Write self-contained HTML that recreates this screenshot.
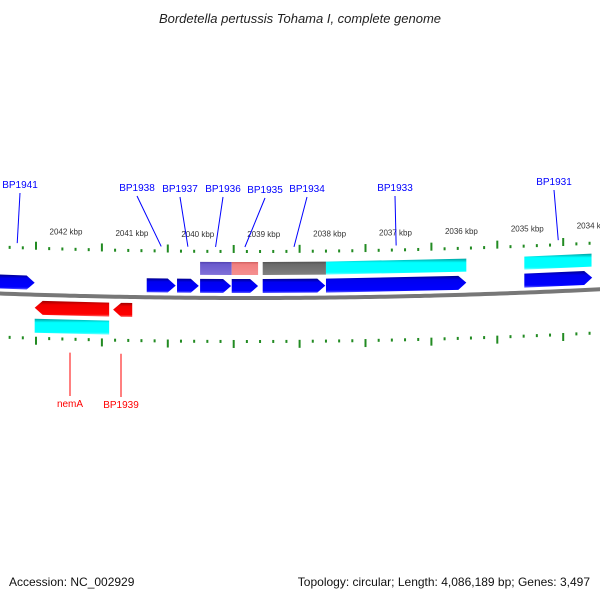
<!DOCTYPE html>
<html><head><meta charset="utf-8"><style>
body{margin:0;background:#fff;}
svg{display:block;font-family:"Liberation Sans","DejaVu Sans",sans-serif;}
</style></head><body>
<svg id="map" width="600" height="600" viewBox="0 0 600 600">
<defs>
<linearGradient id="gBlue" x1="0" y1="0" x2="0" y2="1"><stop offset="0" stop-color="#00008c"/><stop offset="0.25" stop-color="#0000f0"/><stop offset="0.85" stop-color="#0000ff"/><stop offset="1" stop-color="#6060ff"/></linearGradient>
<linearGradient id="gRed" x1="0" y1="0" x2="0" y2="1"><stop offset="0" stop-color="#a00000"/><stop offset="0.25" stop-color="#f00000"/><stop offset="0.85" stop-color="#ff0000"/><stop offset="1" stop-color="#ff7070"/></linearGradient>
<linearGradient id="gCyan" x1="0" y1="0" x2="0" y2="1"><stop offset="0" stop-color="#00a0a0"/><stop offset="0.25" stop-color="#00ffff"/><stop offset="0.85" stop-color="#00ffff"/><stop offset="1" stop-color="#80ffff"/></linearGradient>
<linearGradient id="gPurple" x1="0" y1="0" x2="0" y2="1"><stop offset="0" stop-color="#5040b0"/><stop offset="0.2" stop-color="#6a5acd"/><stop offset="1" stop-color="#8070d8"/></linearGradient>
<linearGradient id="gPink" x1="0" y1="0" x2="0" y2="1"><stop offset="0" stop-color="#d06060"/><stop offset="0.2" stop-color="#f08080"/><stop offset="1" stop-color="#f59090"/></linearGradient>
<linearGradient id="gGray" x1="0" y1="0" x2="0" y2="1"><stop offset="0" stop-color="#505050"/><stop offset="0.2" stop-color="#696969"/><stop offset="1" stop-color="#808080"/></linearGradient>
<linearGradient id="gBack" x1="0" y1="0" x2="0" y2="1"><stop offset="0" stop-color="#c0c0c0"/><stop offset="0.5" stop-color="#707070"/><stop offset="1" stop-color="#b0b0b0"/></linearGradient>
</defs>
<text x="300" y="23" text-anchor="middle" font-size="13" font-style="italic" fill="#222">Bordetella pertussis Tohama I, complete genome</text>
<text x="9" y="586" font-size="12" fill="#111">Accession: NC_002929</text>
<text x="590" y="586" text-anchor="end" font-size="12" fill="#111">Topology: circular; Length: 4,086,189 bp; Genes: 3,497</text>
<g id="layer"></g>
</svg>
<script>
// data (kbp)
const tickMajor = [2042,2041,2040,2039,2038,2037,2036,2035,2034];
const tickLabels = ["2042 kbp","2041 kbp","2040 kbp","2039 kbp","2038 kbp","2037 kbp","2036 kbp","2035 kbp","2034 kbp"];
const fwdNames = ["BP1941","BP1938","BP1937","BP1936","BP1935","BP1934","BP1933","BP1931"];
const fwdStart = [2042.55,2040.32,2039.86,2039.51,2039.03,2038.56,2037.60,2034.59];
const fwdEnd   = [2042.02,2039.88,2039.53,2039.04,2038.63,2037.61,2035.47,2033.56];
const revNames = ["nemA","BP1939"];
const revStart = [2042.02,2040.83];
const revEnd   = [2040.89,2040.54];
const topFeatStart = [2039.51,2039.03,2038.56,2037.60,2034.59];
const topFeatEnd   = [2039.03,2038.63,2037.60,2035.47,2033.57];
const topFeatFill  = ["gPurple","gPink","gGray","gCyan","gCyan"];
const botFeatStart = [2042.02];
const botFeatEnd   = [2040.89];
const fwdLabelPos = [[20,185],[137,188],[180,189],[223,189],[265,190],[307,189],[395,188],[554,182]];
const revLabelPos = [[70,404],[121,405]];

const NS="http://www.w3.org/2000/svg";
const layer=document.getElementById('layer');
function X(k){return 36+(2042-k)*65.9;}
function base(x){return 298-((x-250)*(x-250))/14000;}
function mk(tag,attrs){const e=document.createElementNS(NS,tag);for(const k in attrs)e.setAttribute(k,attrs[k]);layer.appendChild(e);return e;}

// backbone
let d="";for(let x=-5;x<=605;x+=5){d+=(x===-5?"M":"L")+x+","+base(x).toFixed(2);}
const bb=mk('path',{d:d,fill:'none',stroke:'#777','stroke-width':4});



// ticks
for(let k=2042.6;k>=2033.4;k-=0.2){
  const kk=Math.round(k*10)/10;const x=X(kk);const y=base(x);
  const major=Math.abs(kk-Math.round(kk))<0.01;
  const h=major?8:3;
  const t1=mk('rect',{x:x-1,y:y-45-h,width:2,height:h,fill:'#228B22'});
  
  
  const t2=mk('rect',{x:x-1,y:y+42,width:2,height:h,fill:'#228B22'});
  
  
}
tickMajor.forEach((k,i)=>{
  const x=X(k)+30;const y=base(x)-61;
  const t=mk('text',{x:x,y:y,'text-anchor':'middle','font-size':8,fill:'#333'});
  t.textContent=tickLabels[i];
  
  
});

function bar(k1,k2,off,h,fill,name){
  const x1=X(k1),x2=X(k2);
  const p=`M${x1},${base(x1)+off} L${x2},${base(x2)+off} L${x2},${base(x2)+off+h} L${x1},${base(x1)+off+h}Z`;
  const e=mk('path',{d:p,fill:'url(#'+fill+')'});
  
  
}
function arrow(k1,k2,off,h,fill,name,dir){
  const x1=X(k1),x2=X(k2);const a=Math.min(8,(x2-x1)/2);
  let p;
  if(dir>0){const xa=x2-a;p=`M${x1},${base(x1)+off} L${xa},${base(xa)+off} L${x2},${base(x2)+off+h/2} L${xa},${base(xa)+off+h} L${x1},${base(x1)+off+h}Z`;}
  else{const xa=x1+a;p=`M${x2},${base(x2)+off} L${xa},${base(xa)+off} L${x1},${base(x1)+off+h/2} L${xa},${base(xa)+off+h} L${x2},${base(x2)+off+h}Z`;}
  const e=mk('path',{d:p,fill:'url(#'+fill+')'});
  
  
}
topFeatStart.forEach((s,i)=>bar(s,topFeatEnd[i],-36,13,topFeatFill[i],'feature-top'));
botFeatStart.forEach((s,i)=>bar(s,botFeatEnd[i],24,14,'gCyan','feature-bottom'));
fwdStart.forEach((s,i)=>arrow(s,fwdEnd[i],-19,14,'gBlue','gene-'+fwdNames[i].toLowerCase(),1));
revStart.forEach((s,i)=>arrow(s,revEnd[i],6,14,'gRed','gene-'+revNames[i].toLowerCase(),-1));

fwdNames.forEach((n,i)=>{
  const gx=(X(fwdStart[i])+X(fwdEnd[i]))/2;const gy=base(gx)-51;
  const [lx,ly]=fwdLabelPos[i];
  const l=mk('line',{x1:lx,y1:ly+8,x2:gx,y2:gy,stroke:'#0000ff','stroke-width':1});
  
  
  const t=mk('text',{x:lx,y:ly+3,'text-anchor':'middle','font-size':10,fill:'#0000ff'});
  t.textContent=n;
  
  
});
revNames.forEach((n,i)=>{
  const [lx,ly]=revLabelPos[i];
  const gx=lx;const gy=base(gx)+57;
  const l=mk('line',{x1:gx,y1:gy,x2:lx,y2:ly-8,stroke:'#ff0000','stroke-width':1});
  
  
  const t=mk('text',{x:lx,y:ly+3,'text-anchor':'middle','font-size':10,fill:'#ff0000'});
  t.textContent=n;
  
  
});
</script>
</body></html>
